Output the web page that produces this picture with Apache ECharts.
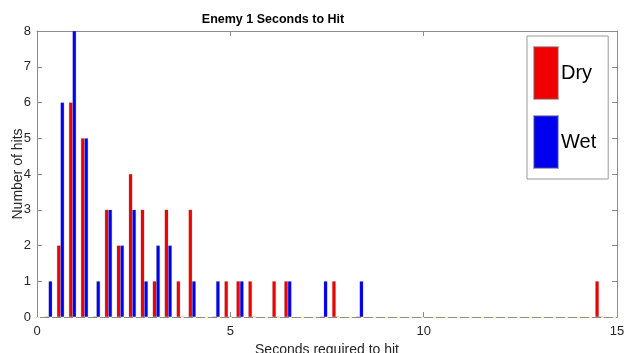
<!DOCTYPE html>
<html>
<head>
<meta charset="utf-8">
<script src="https://cdn.jsdelivr.net/npm/echarts@6/dist/echarts.min.js"></script>
<style>html,body{margin:0;padding:0;background:#fff}#c{width:627px;height:353px}</style>
</head>
<body>
<div id="c"></div>
<script>
// Bin centers (seconds) with non-zero counts
var binCenters = [0.300, 0.609, 0.919, 1.228, 1.538, 1.847, 2.156, 2.466, 2.775, 3.085, 3.394, 3.703, 4.013, 4.632, 4.941, 5.250, 5.560, 6.179, 6.488, 7.416, 7.726, 8.344, 14.532];
var dryHits    = [0, 2, 6, 5, 0, 3, 2, 4, 3, 1, 3, 1, 3, 0, 1, 1, 1, 1, 1, 0, 1, 0, 1];
var wetHits    = [1, 6, 8, 5, 1, 3, 2, 3, 1, 2, 2, 0, 1, 1, 0, 1, 0, 0, 1, 1, 0, 1, 0];
var xTicks = [0, 5, 10, 15];
var yTicks = [0, 1, 2, 3, 4, 5, 6, 7, 8];
var seriesNames = ['Dry', 'Wet'];

var font = 'Liberation Sans, Arial, sans-serif';
var axisGray = '#8c8c8c';
var textCol = '#262626';

function pairs(vals) {
  return binCenters.map(function (x, i) { return [x, vals[i]]; });
}

var chart = echarts.init(document.getElementById('c'), null, {renderer: 'canvas'});
chart.setOption({
  animation: false,
  backgroundColor: '#fff',
  title: {
    text: 'Enemy 1 Seconds to Hit',
    left: 268, top: 8, textAlign: 'center',
    textStyle: {fontFamily: font, fontSize: 12.5, fontWeight: 'bold', color: '#000'}
  },
  legend: {
    orient: 'vertical',
    left: 527, top: 36,
    padding: [10, 12, 10, 6],
    itemWidth: 24, itemHeight: 52, itemGap: 15,
    borderColor: '#999', borderWidth: 1,
    backgroundColor: '#fff',
    icon: 'rect',
    textStyle: {fontFamily: font, fontSize: 20, color: '#000', padding: [0, 0, 0, -2]},
    data: seriesNames
  },
  grid: {left: 37, right: 10, top: 31, bottom: 36, containLabel: false, outerBoundsMode: 'none'},
  xAxis: [{
    type: 'value', min: xTicks[0], max: xTicks[xTicks.length - 1], interval: 5,
    name: 'Seconds required to hit', nameLocation: 'middle', nameGap: 26, nameMoveOverlap: false,
    nameTextStyle: {fontFamily: font, fontSize: 14, color: textCol},
    axisLine: {show: true, lineStyle: {color: axisGray, width: 1}},
    axisTick: {show: true, inside: true, length: 5, lineStyle: {color: axisGray}},
    axisLabel: {fontFamily: font, fontSize: 13, color: textCol, margin: 8},
    splitLine: {show: false}
  }, {
    type: 'value', position: 'top', min: 0, max: 15, interval: 5,
    axisLine: {show: true, onZero: false, lineStyle: {color: axisGray, width: 1}},
    axisTick: {show: true, inside: true, length: 5, lineStyle: {color: axisGray}},
    axisLabel: {show: false}, splitLine: {show: false}
  }],
  yAxis: [{
    type: 'value', min: yTicks[0], max: yTicks[yTicks.length - 1], interval: 1,
    name: 'Number of hits', nameLocation: 'middle', nameGap: 12, nameMoveOverlap: false,
    nameTextStyle: {fontFamily: font, fontSize: 14, color: textCol},
    axisLine: {show: true, lineStyle: {color: axisGray, width: 1}},
    axisTick: {show: true, inside: true, length: 5, lineStyle: {color: axisGray}},
    axisLabel: {fontFamily: font, fontSize: 13, color: textCol, margin: 6},
    splitLine: {show: false}
  }, {
    type: 'value', position: 'right', min: 0, max: 8, interval: 1,
    axisLine: {show: true, onZero: false, lineStyle: {color: axisGray, width: 1}},
    axisTick: {show: true, inside: true, length: 5, lineStyle: {color: axisGray}},
    axisLabel: {show: false}, splitLine: {show: false}
  }],
  series: [{
    name: seriesNames[0], type: 'bar', data: pairs(dryHits),
    barWidth: 3.6, barGap: '0%',
    itemStyle: {color: '#f00000', borderColor: 'rgba(140,80,80,0.5)', borderWidth: 0.5},
    markLine: {
      silent: true, symbol: 'none', label: {show: false},
      lineStyle: {color: '#eeee99', type: [3, 9], width: 1},
      data: [{yAxis: 0}]
    }
  }, {
    name: seriesNames[1], type: 'bar', data: pairs(wetHits),
    barWidth: 3.6, barGap: '0%',
    itemStyle: {color: '#0000f0', borderColor: 'rgba(80,80,140,0.5)', borderWidth: 0.5}
  }]
});
</script>
</body>
</html>
